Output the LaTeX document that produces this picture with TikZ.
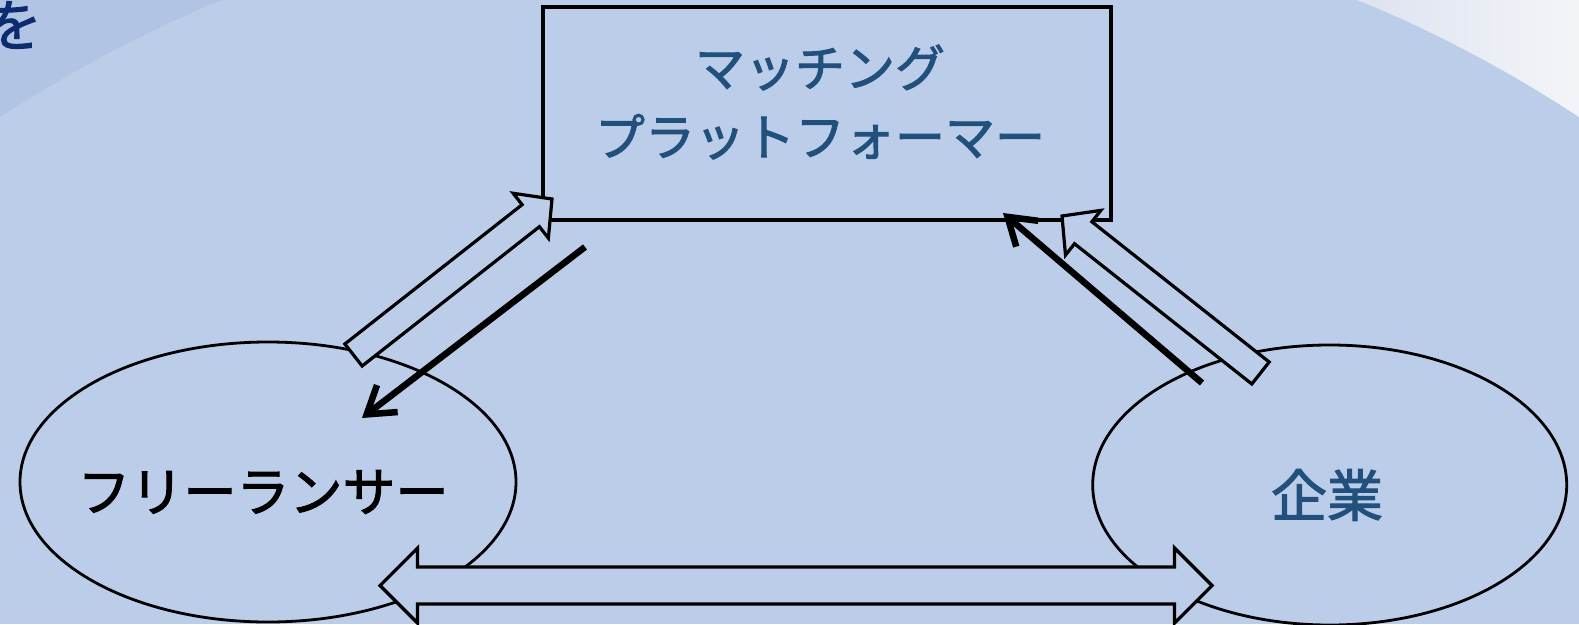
\documentclass[tikz,border=0pt]{standalone}
\usepackage{fontspec}
\newfontfamily\jp[FakeBold=2]{Noto Sans CJK JP}
\usetikzlibrary{calc,arrows.meta,shapes.geometric}
\definecolor{bgblue}{HTML}{BBCDE9}
\definecolor{tlblue}{HTML}{B2C4E4}
\definecolor{trlight}{HTML}{F4F5F8}
\definecolor{trmid}{HTML}{DCE2EF}
\definecolor{txtblue}{HTML}{21507D}
\definecolor{navy}{HTML}{0B2C6E}
\tikzset{
  boxstyle/.style={draw=black, line width=3.2pt, fill=none, minimum width=568pt, minimum height=213pt, inner sep=0pt},
  ovalstyle/.style={ellipse, draw=black, line width=2.8pt, fill=none, minimum width=496pt, minimum height=280pt, inner sep=0pt},
  blockstyle/.style={draw=black, line width=3.2pt, fill=bgblue, line join=miter},
  thickarrow/.style={draw=black, line width=6.5pt, line cap=butt, -{Straight Barb[length=26pt,width=34pt]}},
  jptext/.style={inner sep=0pt, align=center}
}
\newcommand\blockarrow[5]{%
  \coordinate (#1-#2-c) at ($(#2)!#5pt!(#1)$);
  \draw[blockstyle] ($(#1)!#3pt!90:(#2)$) -- ($(#1-#2-c)!#3pt!90:(#2)$) -- ($(#1-#2-c)!#4pt!90:(#2)$)
    -- (#2) -- ($(#1-#2-c)!#4pt!-90:(#2)$) -- ($(#1-#2-c)!#3pt!-90:(#2)$) -- ($(#1)!#3pt!-90:(#2)$) -- cycle;
}
\begin{document}
\begin{tikzpicture}[x=1pt,y=-1pt]
\useasboundingbox (0,0) rectangle (1579,624);
\begin{scope}
\clip (0,0) rectangle (1579,624);
\fill[bgblue] (0,0) rectangle (1579,624);
\fill[tlblue] (-5,-5) -- (-5,120) -- (0,117) .. controls (80,65) and (160,25) .. (222,0) -- (230,-5) -- cycle;
\shade[left color=trmid, right color=trlight] (1357,0) .. controls (1420,25) and (1500,65) .. (1579,117) -- (1584,120) -- (1584,-5) -- (1350,-5) -- cycle;
\node[jptext, text=navy, font=\jp\fontsize{56}{56}\selectfont, anchor=base east] (wo) at (42,46) {を};
\end{scope}

% main shapes
\node[boxstyle] (plat) at (827,113.5) {};
\node[jptext, text=txtblue, font=\jp\fontsize{50}{69}\selectfont] (plattext) at (820,102) {マッチング\\プラットフォーマー};

\node[ovalstyle] (free) at (268,482) {};
\node[jptext, text=black, font=\jp\fontsize{53}{53}\selectfont] (freetext) at (263,492) {フリーランサー};

\node[ovalstyle, minimum width=474pt] (corp) at (1329.7,485) {};
\node[jptext, text=txtblue, font=\jp\fontsize{56}{56}\selectfont] (corptext) at (1327,495) {企業};

% hollow block arrows
\coordinate (lt) at (353.5,355);
\coordinate (lh) at (552,199);
\blockarrow{lt}{lh}{14}{28.5}{27}
\coordinate (rt) at (1260.5,373);
\coordinate (rh) at (1062,216);
\blockarrow{rt}{rh}{14}{28.5}{27}

% thick black arrows
\coordinate (ls) at (585,247);
\coordinate (le) at (362,418);
\draw[thickarrow] (ls) -- (le);
\coordinate (rs) at (1202,383);
\coordinate (re) at (1003,213);
\draw[thickarrow] (rs) -- (re);

% bottom double arrow
\coordinate (dl) at (380,585.5);
\coordinate (dr) at (1212,585.5);
\draw[blockstyle] (dl) -- ($(dl)+(37.5,-37.5)$) -- ($(dl)+(37.5,-18.5)$) -- ($(dr)+(-37.5,-18.5)$)
  -- ($(dr)+(-37.5,-37.5)$) -- (dr) -- ($(dr)+(-37.5,37.5)$) -- ($(dr)+(-37.5,18.5)$)
  -- ($(dl)+(37.5,18.5)$) -- ($(dl)+(37.5,37.5)$) -- cycle;
\end{tikzpicture}
\end{document}
